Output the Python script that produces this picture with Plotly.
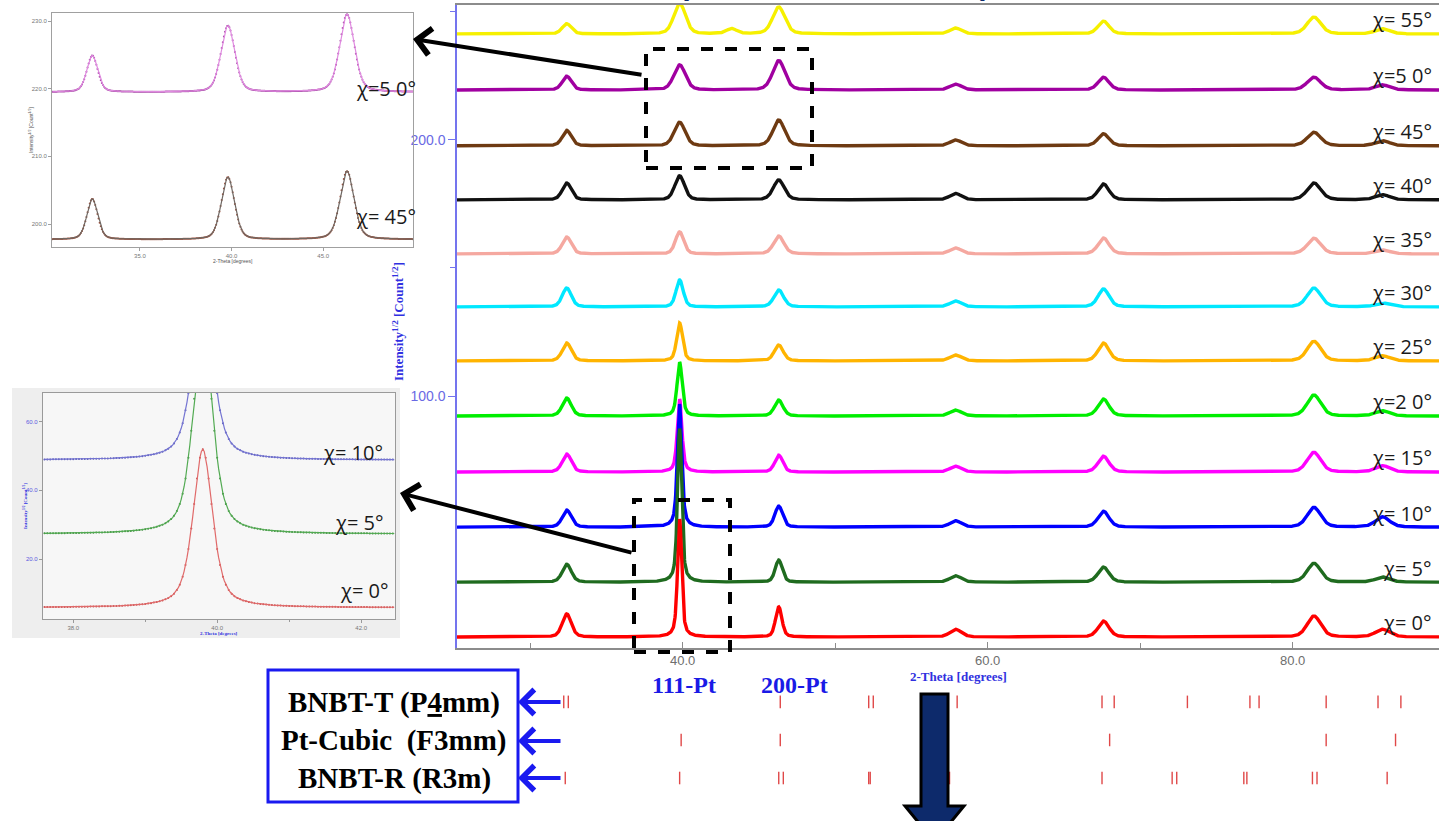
import numpy as np
import plotly.graph_objects as go

W, H = 1439, 821

# ---------------------------------------------------------------- data ----
two_theta_min, two_theta_max, two_theta_step = 25.2, 89.6, 0.02

chi_angles = [0, 5, 10, 15, 20, 25, 30, 35, 40, 45, 50, 55]
chi_labels = ["χ= 0°", "χ= 5°", "χ= 10°", "χ= 15°", "χ=2 0°", "χ= 25°",
              "χ= 30°", "χ= 35°", "χ= 40°", "χ= 45°", "χ=5 0°", "χ= 55°"]
line_colors = ["#ff0000", "#1f6b1f", "#0000ff", "#ff00ff", "#00ee00", "#ffb400",
               "#00e8ff", "#f5a8a0", "#111111", "#6e3a12", "#a000a0", "#f6f000"]
# vertical offset of each scan, Intensity^1/2
baselines = [5.9, 27.3, 48.8, 70.3, 92.2, 113.7, 134.8, 155.5, 176.6, 197.7, 219.5, 241.4]

# reflection positions (2-Theta, degrees)
pos_110 = 32.4
pos_111 = 39.8
pos_43 = 43.2
pos_200 = 46.3
pos_211 = 57.9
pos_220 = 67.6
pos_311 = 81.4
pos_222 = 85.9

# peak heights above the scan baseline, one value per chi
heights_110 = [9.0, 7.0, 6.6, 7.0, 7.0, 7.0, 7.4, 6.6, 6.6, 6.0, 5.4, 4.0]
heights_111 = [46.0, 60.0, 48.0, 28.5, 21.0, 14.8, 10.5, 8.6, 9.4, 9.2, 9.8, 12.0]
heights_43 = [0, 0, 0, 0, 0, 0, 0, 0, 0, 0, 0, 2.0]
heights_200 = [11.7, 8.6, 8.2, 6.6, 6.2, 6.2, 6.6, 7.0, 7.8, 10.1, 11.5, 10.5]
heights_211 = [3.0, 2.5, 2.5, 2.3, 2.3, 2.3, 2.3, 2.3, 2.5, 2.3, 2.3, 2.3]
heights_220 = [6.2, 5.9, 6.2, 6.2, 6.6, 7.0, 7.0, 6.2, 6.2, 4.7, 5.0, 5.0]
heights_311 = [8.2, 7.4, 7.7, 7.7, 8.2, 7.7, 7.4, 6.1, 6.6, 5.3, 5.0, 6.6]
heights_222 = [3.0, 2.0, 4.0, 2.5, 2.0, 2.0, 1.5, 1.5, 2.0, 2.0, 2.0, 2.0]

# peak widths (FWHM, degrees)
fwhm_111 = [0.32, 0.32, 0.34, 0.36, 0.40, 0.46, 0.56, 0.65, 0.75, 0.85, 0.9, 0.9]
eta_111 = [0.6, 0.6, 0.6, 0.55, 0.5, 0.45, 0.35, 0.3, 0.3, 0.3, 0.3, 0.3]
fwhm_200 = [0.5, 0.55, 0.6, 0.62, 0.66, 0.7, 0.75, 0.8, 0.85, 0.9, 0.95, 0.95]
fwhm_110 = 0.7
fwhm_43 = 0.8
fwhm_211 = 0.9
fwhm_220 = 0.85
fwhm_311 = 1.05
fwhm_222 = 1.1

# reference reflection markers (2-Theta) for the three phases
ticks_bnbt_t = [32.2, 32.5, 46.4, 52.2, 52.5, 57.4, 58.0, 67.5, 68.3, 73.1,
                77.2, 77.8, 82.2, 85.6, 87.1]
ticks_pt_cubic = [39.9, 46.4, 68.0, 82.2, 86.75]
ticks_bnbt_r = [32.3, 39.8, 46.3, 46.6, 52.2, 52.3, 57.5, 67.5, 72.1, 72.4,
                76.8, 77.0, 81.3, 81.6, 86.2]
phase_rows = {"BNBT-T": 2, "Pt-Cubic": 1, "BNBT-R": 0}


# ------------------------------------------------------------- helpers ----
def fx(px):
    return px / W


def fy(py):
    return 1 - py / H


def pseudo_voigt(tt, center, fwhm, eta=0.35):
    z = (tt - center) / fwhm
    return eta / (1 + 4 * z ** 2) + (1 - eta) * np.exp(-4 * np.log(2) * z ** 2)


tt = np.arange(two_theta_min, two_theta_max + 1e-9, two_theta_step)


def scan(i):
    y = np.full_like(tt, baselines[i])
    y += heights_110[i] * pseudo_voigt(tt, pos_110, fwhm_110)
    y += heights_111[i] * pseudo_voigt(tt, pos_111, fwhm_111[i], eta_111[i])
    y += heights_43[i] * pseudo_voigt(tt, pos_43, fwhm_43)
    y += heights_200[i] * pseudo_voigt(tt, pos_200, fwhm_200[i])
    y += heights_211[i] * pseudo_voigt(tt, pos_211, fwhm_211)
    y += heights_220[i] * pseudo_voigt(tt, pos_220, fwhm_220)
    y += heights_311[i] * pseudo_voigt(tt, pos_311, fwhm_311)
    y += heights_222[i] * pseudo_voigt(tt, pos_222, fwhm_222)
    return y


scans = [scan(i) for i in range(len(chi_angles))]

fig = go.Figure()

# main stacked scans (top scan first so the low-chi scans sit in front)
for i in reversed(range(len(chi_angles))):
    fig.add_trace(go.Scatter(x=tt, y=scans[i], mode="lines",
                             line=dict(color=line_colors[i], width=3.4),
                             xaxis="x", yaxis="y", hoverinfo="skip",
                             showlegend=False))

# inset: chi = 45 / 50 around the low-angle reflections
inset1_rng = (30.2, 49.9)
inset1_style = {50: ("#e08ae0", "#a64aa6"), 45: ("#6f6863", "#9c4e3a")}
for chi in (50, 45):
    i = chi_angles.index(chi)
    m = (tt >= inset1_rng[0]) & (tt <= inset1_rng[1])
    lc, mc = inset1_style[chi]
    fig.add_trace(go.Scatter(x=tt[m][::3], y=scans[i][m][::3], mode="markers",
                             marker=dict(color=mc, size=2),
                             xaxis="x2", yaxis="y2", hoverinfo="skip", showlegend=False))
    fig.add_trace(go.Scatter(x=tt[m], y=scans[i][m], mode="lines",
                             line=dict(color=lc, width=1.2),
                             xaxis="x2", yaxis="y2", hoverinfo="skip", showlegend=False))

# inset: chi = 0 / 5 / 10 around Pt (111)
inset2_rng = (37.58, 42.47)
inset2_style = {10: ("#7474d2", "#5656b4"), 5: ("#52aa52", "#3a8a3a"), 0: ("#e06a6a", "#c44a4a")}
for chi in (10, 5, 0):
    i = chi_angles.index(chi)
    m = (tt >= inset2_rng[0]) & (tt <= inset2_rng[1])
    lc, mc = inset2_style[chi]
    fig.add_trace(go.Scatter(x=tt[m][::2], y=scans[i][m][::2], mode="markers",
                             marker=dict(color=mc, size=2),
                             xaxis="x3", yaxis="y3", hoverinfo="skip", showlegend=False))
    fig.add_trace(go.Scatter(x=tt[m], y=scans[i][m], mode="lines",
                             line=dict(color=lc, width=1.2),
                             xaxis="x3", yaxis="y3", hoverinfo="skip", showlegend=False))

# phase reflection markers below the 2-Theta axis
for name, vals in (("BNBT-T", ticks_bnbt_t), ("Pt-Cubic", ticks_pt_cubic), ("BNBT-R", ticks_bnbt_r)):
    fig.add_trace(go.Scatter(x=vals, y=[phase_rows[name]] * len(vals), mode="markers",
                             marker=dict(symbol="line-ns", size=9,
                                         line=dict(color="#e04848", width=1.4)),
                             xaxis="x", yaxis="y4", hoverinfo="skip", showlegend=False))

# ---------------------------------------------------------- annotations ----
ann = []


def label(text, px, py, font, **kw):
    d = dict(text=text, xref="paper", yref="paper", x=fx(px), y=fy(py),
             xanchor="center", yanchor="middle", showarrow=False, font=font)
    d.update(kw)
    ann.append(d)


chi_font = dict(family="Open Sans", size=20, color="#1a1a1a")
for i, lab in enumerate(chi_labels):
    ann.append(dict(text=lab, xref="paper", yref="y", x=fx(1434), y=baselines[i] + 5.5,
                    xanchor="right", yanchor="middle", showarrow=False, font=chi_font))

# inset labels
label("χ=5 0°", 386, 88, chi_font)
label("χ= 45°", 386, 216, chi_font)
label("χ= 10°", 353, 452, chi_font)
label("χ= 5°", 359, 522, chi_font)
label("χ= 0°", 364, 590, chi_font)

blue_serif = dict(family="Liberation Serif", size=13, color="#3030e0")
label("<b>2-Theta [degrees]</b>", 958, 676, blue_serif)
label("<b>Intensity<sup>1/2</sup> [Count<sup>1/2</sup>]</b>", 398, 322, blue_serif, textangle=-90)

# tiny inset axis titles
tiny_gray = dict(family="Liberation Sans", size=5, color="#555555")
tiny_blue = dict(family="Liberation Serif", size=5, color="#3030e0")
label("2-Theta [degrees]", 233, 261, tiny_gray)
label("Intensity<sup>1/2</sup> [Count<sup>1/2</sup>]", 31, 130, tiny_gray, textangle=-90)
label("<b>2-Theta [degrees]</b>", 219, 633, tiny_blue)
label("<b>Intensity<sup>1/2</sup> [Count<sup>1/2</sup>]</b>", 25, 506, tiny_blue, textangle=-90)

# reflection labels
pt_font = dict(family="Liberation Serif", size=24, color="#1a1ae6")
label("<b>111-Pt</b>", 684, 685, pt_font)
label("<b>200-Pt</b>", 795, 685, pt_font)

# phase legend box text
box_font = dict(family="Liberation Serif", size=29, color="#000000")
label("<b>BNBT-T (P<u>4</u>mm)</b>", 394, 702, box_font)
label("<b>Pt-Cubic  (F3mm)</b>", 394, 740, box_font)
label("<b>BNBT-R (R3m)</b>", 394, 778, box_font)

# blue arrows pointing at the phase names
for py in (702, 741, 778):
    ann.append(dict(text="", xref="paper", yref="paper", x=fx(518), y=fy(py),
                    ax=44, ay=0, showarrow=True, arrowhead=4, arrowsize=1.2,
                    arrowwidth=4, arrowcolor="#1a1af0"))

# black arrows from the dashed regions to the insets
ann.append(dict(text="", xref="paper", yref="paper", x=fx(413), y=fy(39),
                ax=643 - 413, ay=75 - 39, showarrow=True, arrowhead=4, arrowsize=1.3,
                arrowwidth=4, arrowcolor="#000000"))
ann.append(dict(text="", xref="paper", yref="paper", x=fx(400), y=fy(493),
                ax=633 - 400, ay=553 - 493, showarrow=True, arrowhead=4, arrowsize=1.3,
                arrowwidth=4, arrowcolor="#000000"))

# title brackets just above the plotting frame
bracket_font = dict(family="Liberation Sans", size=30, color="#0d2a6b")
label("<b>(</b>", 684, -34, bracket_font, yanchor="top")
label("<b>)</b>", 985, -34, bracket_font, yanchor="top")

# ---------------------------------------------------------------- shapes ----
def rect(x0, y0, x1, y1, **kw):
    return dict(type="rect", xref="paper", yref="paper",
                x0=fx(x0), x1=fx(x1), y0=fy(y1), y1=fy(y0), **kw)


shapes = [
    rect(12, 388, 400, 638, fillcolor="#eeeeee", line=dict(width=0), layer="below"),
    rect(43, 393, 395, 619, fillcolor="#f7f7f7", line=dict(width=0), layer="below"),
    rect(268, 670, 518, 802, line=dict(color="#1a1af0", width=3)),
    rect(646, 49, 812, 168, line=dict(color="#000000", width=4, dash="dash")),
    rect(634, 500, 730, 652, line=dict(color="#000000", width=4, dash="dash")),
]

# large downward arrow
arrow_pts = [(921, 694), (948, 694), (948, 806), (964, 806), (934.5, 842),
             (905, 806), (921, 806)]
path = "M " + " L ".join("%.5f,%.5f" % (fx(a), fy(b)) for a, b in arrow_pts) + " Z"
shapes.append(dict(type="path", xref="paper", yref="paper", path=path,
                   fillcolor="#0d2a6b", line=dict(color="#000000", width=3)))

# ---------------------------------------------------------------- layout ----
inset_tick = dict(family="Liberation Sans", size=6, color="#777777")
fig.update_layout(
    width=W, height=H, margin=dict(l=0, r=0, t=0, b=0),
    paper_bgcolor="white", plot_bgcolor="rgba(0,0,0,0)",
    showlegend=False, hovermode=False,
    xaxis=dict(domain=[fx(457), 1.0], range=[two_theta_min, two_theta_max], anchor="y",
               showline=True, linecolor="#8c8c8c", linewidth=1.5, mirror=True,
               ticks="inside", ticklen=6, tickcolor="#8c8c8c",
               tickvals=[40, 60, 80], ticktext=["40.0", "60.0", "80.0"],
               tickfont=dict(family="Liberation Sans", size=13, color="#6e6e6e"),
               minor=dict(tickvals=[30, 50, 70], ticks="inside", ticklen=5, tickcolor="#8c8c8c"),
               showgrid=False, zeroline=False),
    yaxis=dict(domain=[fy(648), fy(5)], range=[1.6, 252.7], anchor="x",
               showline=True, linecolor="#7474ee", linewidth=1.5,
               ticks="outside", ticklen=7, tickcolor="#7474ee",
               tickvals=[100, 200], ticktext=["100.0", "200.0"],
               tickfont=dict(family="Liberation Sans", size=14, color="#6a6ae4"),
               minor=dict(tickvals=[150, 250], ticks="outside", ticklen=5, tickcolor="#7474ee"),
               showgrid=False, zeroline=False),
    xaxis2=dict(domain=[fx(52), fx(413)], range=list(inset1_rng), anchor="y2",
                showline=True, linecolor="#a0a0a0", linewidth=1, mirror=True,
                ticks="outside", ticklen=3, tickcolor="#a0a0a0",
                tickvals=[35, 40, 45], ticktext=["35.0", "40.0", "45.0"], tickfont=inset_tick,
                showgrid=False, zeroline=False),
    yaxis2=dict(domain=[fy(247), fy(13)], range=[196.6, 231.2], anchor="x2",
                showline=True, linecolor="#a0a0a0", linewidth=1, mirror=True,
                ticks="outside", ticklen=3, tickcolor="#a0a0a0",
                tickvals=[200, 210, 220, 230], ticktext=["200.0", "210.0", "220.0", "230.0"],
                tickfont=inset_tick, showgrid=False, zeroline=False),
    xaxis3=dict(domain=[fx(43), fx(395)], range=list(inset2_rng), anchor="y3",
                showline=True, linecolor="#9a9a9a", linewidth=1.2, mirror=True,
                ticks="outside", ticklen=3, tickcolor="#9a9a9a",
                tickvals=[38, 40, 42], ticktext=["38.0", "40.0", "42.0"], tickfont=inset_tick,
                minor=dict(tickvals=[39, 41], ticks="outside", ticklen=2, tickcolor="#9a9a9a"),
                showgrid=False, zeroline=False),
    yaxis3=dict(domain=[fy(619), fy(393)], range=[2.6, 68.3], anchor="x3",
                showline=True, linecolor="#9a9a9a", linewidth=1.2, mirror=True,
                ticks="outside", ticklen=3, tickcolor="#9a9a9a",
                tickvals=[20, 40, 60], ticktext=["20.0", "40.0", "60.0"],
                tickfont=dict(family="Liberation Sans", size=6, color="#5a5ae0"),
                showgrid=False, zeroline=False),
    yaxis4=dict(domain=[0, fy(657)], range=[-1.13, 3.18], anchor="x", visible=False,
                fixedrange=True),
    annotations=ann,
    shapes=shapes,
)

fig.write_html("out.html")
